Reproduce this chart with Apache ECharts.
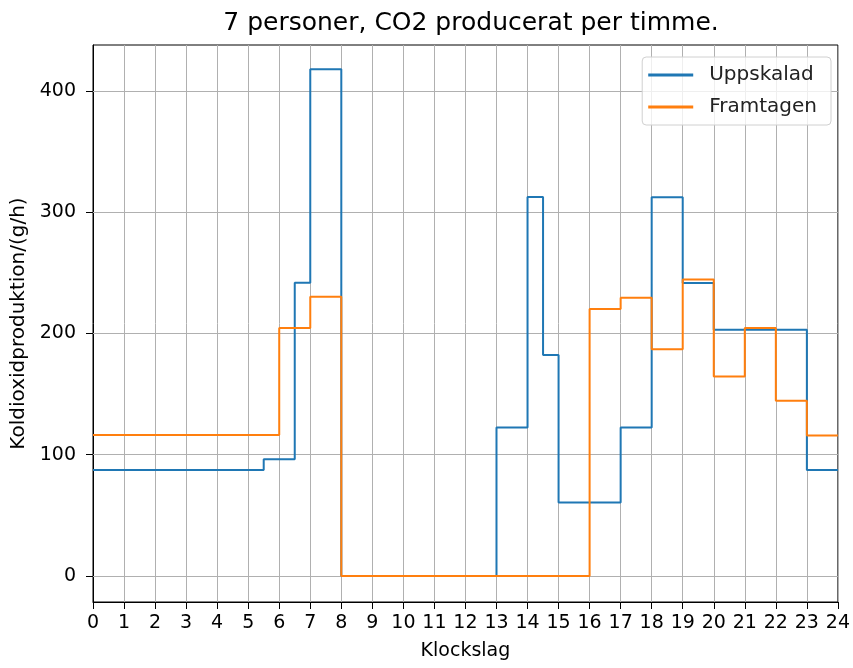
<!DOCTYPE html>
<html>
<head>
<meta charset="utf-8">
<script src="https://cdn.jsdelivr.net/npm/echarts@6/dist/echarts.min.js"></script>
<style>html,body{margin:0;padding:0;background:#fff}#c{width:853px;height:668px}</style>
</head>
<body>
<div id="c"></div>
<script>
var titleText = '7 personer, CO2 producerat per timme.';
var xName = 'Klockslag';
var yName = 'Koldioxidproduktion/(g/h)';
var yTicks = [0, 100, 200, 300, 400];
var xTicks = [0, 1, 2, 3, 4, 5, 6, 7, 8, 9, 10, 11, 12, 13, 14, 15, 16, 17, 18, 19, 20, 21, 22, 23, 24];

var blueName = 'Uppskalad';
var blueX = [0, 5.5, 6.5, 7, 8, 13, 14, 14.5, 15, 17, 18, 19, 20, 23, 24];
var blueY = [87.4, 96.2, 241.8, 417.9, 0, 122.5, 312.6, 182.2, 60.5, 122.5, 312.4, 241.6, 203, 87.4, 87.4];

var orangeName = 'Framtagen';
var orangeX = [0, 6, 7, 8, 16, 17, 18, 19, 20, 21, 22, 23, 24];
var orangeY = [116.3, 204.6, 230.3, 0, 220.2, 229.4, 187, 244.6, 164.5, 204.6, 144.6, 115.9, 115.9];

function pairs(xs, ys) { return xs.map(function (x, i) { return [x, ys[i]]; }); }

var font = 'DejaVu Sans';
var chart = echarts.init(document.getElementById('c'), null, {renderer: 'canvas'});
chart.setOption({
  animation: false,
  backgroundColor: '#fff',
  title: {
    text: titleText, left: 466, top: 6, textAlign: 'center',
    textStyle: {fontFamily: font, fontSize: 25, fontWeight: 'normal', color: '#000'}
  },
  grid: {left: 93, right: 13, top: 45, bottom: 66, show: true, borderColor: '#000', borderWidth: 1, containLabel: false},
  legend: {
    right: 22, top: 57, orient: 'vertical', itemGap: 12,
    itemWidth: 45, itemHeight: 3, icon: 'rect',
    padding: [8, 14, 8, 6],
    backgroundColor: 'rgba(255,255,255,0.8)', borderColor: '#d0d0d0', borderWidth: 1, borderRadius: 4,
    textStyle: {fontFamily: font, fontSize: 20, color: '#222', padding: [0, 0, 0, 11]},
    data: [blueName, orangeName]
  },
  xAxis: {
    type: 'value', min: 0, max: 24, interval: 1,
    name: xName, nameLocation: 'middle', nameGap: 40,
    nameTextStyle: {fontFamily: font, fontSize: 19, color: '#000'},
    axisLine: {show: true, onZero: false, lineStyle: {color: '#000', width: 1}},
    axisTick: {show: true, inside: false, length: 7, lineStyle: {color: '#000', width: 1}, customValues: xTicks},
    axisLabel: {fontFamily: font, fontSize: 19, color: '#000', margin: 12, customValues: xTicks, hideOverlap: false},
    splitLine: {show: true, lineStyle: {color: '#b0b0b0', width: 1}}
  },
  yAxis: {
    type: 'value', min: -21.5, max: 438,
    name: yName, nameLocation: 'middle', nameGap: 64,
    nameTextStyle: {fontFamily: font, fontSize: 20, color: '#000'},
    axisLine: {show: true, onZero: false, lineStyle: {color: '#000', width: 1}},
    axisTick: {show: true, inside: false, length: 7, lineStyle: {color: '#000'}, customValues: yTicks},
    axisLabel: {fontFamily: font, fontSize: 19, color: '#000', margin: 17, customValues: yTicks},
    splitLine: {show: false}
  },
  series: [
    {
      name: blueName, type: 'line', step: 'end', symbol: 'none', data: pairs(blueX, blueY),
      lineStyle: {color: '#1f77b4', width: 2}, itemStyle: {color: '#1f77b4'}, z: 3,
      markLine: {
        silent: true, symbol: 'none', label: {show: false}, animation: false,
        lineStyle: {color: '#b0b0b0', width: 1, type: 'solid'},
        data: yTicks.map(function (v) { return {yAxis: v}; }),
        z: 1
      }
    },
    {
      name: orangeName, type: 'line', step: 'end', symbol: 'none', data: pairs(orangeX, orangeY),
      lineStyle: {color: '#ff7f0e', width: 2}, itemStyle: {color: '#ff7f0e'}, z: 4
    }
  ]
});
</script>
</body>
</html>
